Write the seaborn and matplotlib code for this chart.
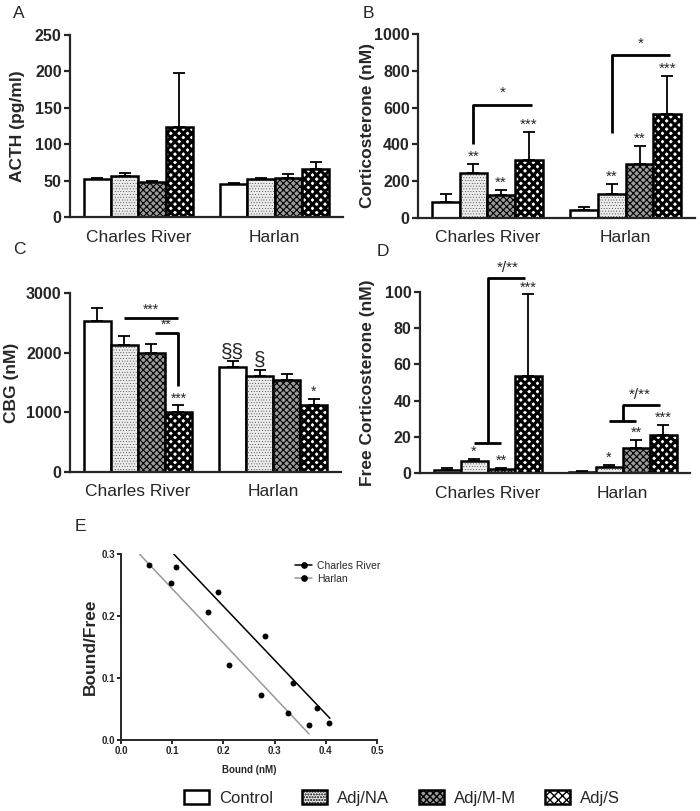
import numpy as np
import pandas as pd
import seaborn as sns
import matplotlib.pyplot as plt
from matplotlib.patches import Patch
from matplotlib.lines import Line2D

# ---- data ----
strains = ["Charles River", "Harlan"]
groups = ["Control", "Adj/NA", "Adj/M-M", "Adj/S"]

acth_cr = [52, 57, 48, 124]
acth_cr_err = [2, 4, 2, 74]
acth_h = [45, 52, 53, 66]
acth_h_err = [2, 2, 6, 9]

cort_cr = [87, 245, 123, 313]
cort_cr_err = [43, 48, 31, 154]
cort_h = [42, 130, 292, 563]
cort_h_err = [18, 55, 101, 211]

cbg_cr = [2525, 2134, 1994, 1006]
cbg_cr_err = [224, 151, 157, 111]
cbg_h = [1760, 1615, 1536, 1128]
cbg_h_err = [95, 100, 101, 95]

free_cr = [1.5, 6.5, 2.2, 53.5]
free_cr_err = [1.3, 1.4, 0.8, 45.2]
free_h = [0.7, 3.3, 13.8, 20.8]
free_h_err = [0.2, 1.3, 4.7, 5.6]

# significance marks above bars: (strain index, group index, text)
cort_marks = [(0, 1, "**"), (0, 2, "**"), (0, 3, "***"), (1, 1, "**"), (1, 2, "**"), (1, 3, "***")]
cbg_marks = [(0, 3, "***"), (1, 0, "§§"), (1, 1, "§"), (1, 3, "*")]
free_marks = [(0, 1, "*"), (0, 2, "**"), (0, 3, "***"), (1, 1, "*"), (1, 2, "**"), (1, 3, "***")]

# Scatchard plot (panel E)
cr_bound = [0.107, 0.189, 0.282, 0.335, 0.382, 0.407]
cr_ratio = [0.279, 0.238, 0.168, 0.092, 0.051, 0.027]
har_bound = [0.054, 0.098, 0.169, 0.211, 0.273, 0.327, 0.368]
har_ratio = [0.283, 0.253, 0.207, 0.121, 0.073, 0.043, 0.025]
cr_fit_x = [0.103, 0.408]
cr_fit_y = [0.300, 0.035]
har_fit_x = [0.036, 0.367]
har_fit_y = [0.300, 0.010]

# ---- style ----
sns.set_style("ticks")
plt.rcParams['font.family'] = ['Liberation Sans', 'DejaVu Sans']
plt.rcParams['hatch.linewidth'] = 1.0

styles = {
    "Control": dict(fc="white", hatch=None, hlw=1.0),
    "Adj/NA": dict(fc="#ececec", hatch="......", hlw=0.2),
    "Adj/M-M": dict(fc="#9a9a9a", hatch="xxxxx", hlw=0.8),
    "Adj/S": dict(fc="white", hatch="xxxx", hlw=2.2),
}


def style_patch(p, g):
    st = styles[g]
    p.set_facecolor(st["fc"])
    p.set_edgecolor("black")
    if st["hatch"]:
        p.set_hatch(st["hatch"])
        if hasattr(p, "set_hatch_linewidth"):
            p.set_hatch_linewidth(st["hlw"])


def bar_panel(ax, cr, cr_err, h, h_err, ylim, yticks, ylabel, label_x):
    df = pd.DataFrame({
        "strain": np.repeat(strains, len(groups)),
        "group": groups * 2,
        "value": cr + h,
    })
    sns.barplot(data=df, x="strain", y="value", hue="group", order=strains,
                hue_order=groups, palette=["white"] * 4, saturation=1,
                edgecolor="black", linewidth=1.8, width=0.8, errorbar=None,
                legend=False, ax=ax)
    errs = [cr_err, h_err]
    bars = list(ax.containers)
    for i, cont in enumerate(bars):
        for j, bar in enumerate(cont):
            style_patch(bar, groups[i])
            x = bar.get_x() + bar.get_width() / 2
            ax.errorbar(x, bar.get_height(), yerr=[[0], [errs[j][i]]], fmt="none",
                        ecolor="black", elinewidth=1.3, capsize=4, capthick=1.3)
    ax.set_xlim(-0.5, 1.5)
    ax.set_ylim(*ylim)
    ax.set_yticks(yticks)
    ax.set_xlabel("")
    ax.set_ylabel(ylabel, fontsize=12.5, fontweight="bold")
    ax.yaxis.set_label_coords(label_x, 0.5)
    sns.despine(ax=ax)
    for s in ["left", "bottom"]:
        ax.spines[s].set_linewidth(1.6)
    ax.tick_params(axis="x", length=0, pad=9, labelsize=12.5)
    ax.tick_params(axis="y", length=4, width=1.6, pad=2, labelsize=11.5)
    for t in ax.get_yticklabels():
        t.set_fontweight("bold")
    return bars


def put_marks(ax, bars, marks, errs, size=11):
    for j, i, txt in marks:
        bar = bars[i][j]
        x = bar.get_x() + bar.get_width() / 2
        top = bar.get_height() + errs[j][i]
        fs = 15 if "§" in txt else size
        ax.annotate(txt, (x, top), xytext=(0, 0), textcoords="offset points",
                    ha="center", va="bottom", fontsize=fs, annotation_clip=False)


def line(ax, xs, ys):
    ax.plot(xs, ys, color="black", lw=2, clip_on=False, solid_capstyle="butt")


fig = plt.figure(figsize=(7, 8.11), dpi=100)
W, H = 700, 811


def axes_px(l, r, t, b):
    return fig.add_axes([l / W, 1 - b / H, (r - l) / W, (b - t) / H])


# A
axA = axes_px(70, 343, 35, 217)
bar_panel(axA, acth_cr, acth_cr_err, acth_h, acth_h_err, (0, 250),
          [0, 50, 100, 150, 200, 250], "ACTH (pg/ml)", -0.165)

# B
axB = axes_px(418, 695, 34, 218)
bB = bar_panel(axB, cort_cr, cort_cr_err, cort_h, cort_h_err, (0, 1000),
               [0, 200, 400, 600, 800, 1000], "Corticosterone (nM)", -0.155)
put_marks(axB, bB, cort_marks, [cort_cr_err, cort_h_err])
line(axB, [-0.1, -0.1, 0.32], [404, 616, 616])
axB.text(0.11, 640, "*", ha="center", va="bottom", fontsize=11)
line(axB, [0.9, 0.9, 1.32], [462, 888, 888])
axB.text(1.11, 910, "*", ha="center", va="bottom", fontsize=11)

# C
axC = axes_px(70, 341, 293, 472)
bC = bar_panel(axC, cbg_cr, cbg_cr_err, cbg_h, cbg_h_err, (0, 3000),
               [0, 1000, 2000, 3000], "CBG (nM)", -0.19)
put_marks(axC, bC, cbg_marks, [cbg_cr_err, cbg_h_err], size=10)
line(axC, [-0.1, 0.3], [2581, 2581])
axC.text(0.1, 2600, "***", ha="center", va="bottom", fontsize=10)
line(axC, [0.13, 0.3, 0.3], [2330, 2330, 1436])
axC.text(0.21, 2350, "**", ha="center", va="bottom", fontsize=10)

# D
axD = axes_px(420, 690, 292, 473)
bD = bar_panel(axD, free_cr, free_cr_err, free_h, free_h_err, (0, 100),
               [0, 20, 40, 60, 80, 100], "Free Corticosterone (nM)", -0.167)
put_marks(axD, bD, free_marks, [free_cr_err, free_h_err], size=10.5)
line(axD, [-0.1, 0.1], [16.6, 16.6])
line(axD, [0.0, 0.0, 0.28], [16.6, 107.7, 107.7])
axD.text(0.15, 109.5, "*/**", ha="center", va="bottom", fontsize=11)
line(axD, [0.9, 1.1], [28.6, 28.6])
line(axD, [1.0, 1.0, 1.28], [28.6, 37.8, 37.8])
axD.text(1.13, 39.5, "*/**", ha="center", va="bottom", fontsize=11)

# E
axE = axes_px(121, 377, 554, 740)
sns.scatterplot(x=cr_bound, y=cr_ratio, color="black", s=18, linewidth=0, ax=axE, zorder=3)
sns.scatterplot(x=har_bound, y=har_ratio, color="black", s=18, linewidth=0, ax=axE, zorder=3)
sns.lineplot(x=cr_fit_x, y=cr_fit_y, color="black", lw=1.1, ax=axE)
sns.lineplot(x=har_fit_x, y=har_fit_y, color="#999999", lw=1.1, ax=axE)
axE.set_xlim(0, 0.5)
axE.set_ylim(0, 0.3)
axE.set_xticks([0, 0.1, 0.2, 0.3, 0.4, 0.5])
axE.set_yticks([0, 0.1, 0.2, 0.3])
axE.set_xticklabels(["0.0", "0.1", "0.2", "0.3", "0.4", "0.5"])
axE.set_yticklabels(["0.0", "0.1", "0.2", "0.3"])
sns.despine(ax=axE)
for s in ["left", "bottom"]:
    axE.spines[s].set_linewidth(1.4)
axE.tick_params(length=3, width=1.4, pad=1.5, labelsize=7)
for t in axE.get_xticklabels() + axE.get_yticklabels():
    t.set_fontweight("bold")
axE.set_ylabel("Bound/Free", fontsize=12.5, fontweight="bold")
axE.yaxis.set_label_coords(-0.09, 0.5)
axE.set_xlabel("Bound (nM)", fontsize=7, fontweight="bold", labelpad=6)
e_handles = [
    Line2D([], [], color="black", lw=1.1, marker="o", markersize=3.8),
    Line2D([], [], color="#999999", lw=1.1, marker="o", markersize=3.8,
           markerfacecolor="black", markeredgecolor="black"),
]
axE.legend(e_handles, ["Charles River", "Harlan"], loc="upper left",
           bbox_to_anchor=(0.665, 0.985), frameon=False, fontsize=7.5,
           handlelength=1.6, handletextpad=0.5, labelspacing=0.3, borderaxespad=0)

# panel letters
for letter, x, y in [("A", 13, 6), ("B", 363, 6), ("C", 13, 242), ("D", 377, 244), ("E", 75, 519)]:
    fig.text(x / W, 1 - y / H, letter, fontsize=12.5, ha="left", va="top")

# legend for groups
handles = []
for g in groups:
    p = Patch(facecolor=styles[g]["fc"], edgecolor="black", linewidth=1.8,
              hatch=styles[g]["hatch"])
    if styles[g]["hatch"] and hasattr(p, "set_hatch_linewidth"):
        p.set_hatch_linewidth(styles[g]["hlw"])
    handles.append(p)
fig.legend(handles, groups, loc="center", bbox_to_anchor=(402 / W, 1 - 798 / H),
           ncol=4, frameon=False, fontsize=12, handlelength=1.5, handleheight=0.9,
           handletextpad=0.6, columnspacing=1.75)

fig.savefig("out.png", dpi=100)
